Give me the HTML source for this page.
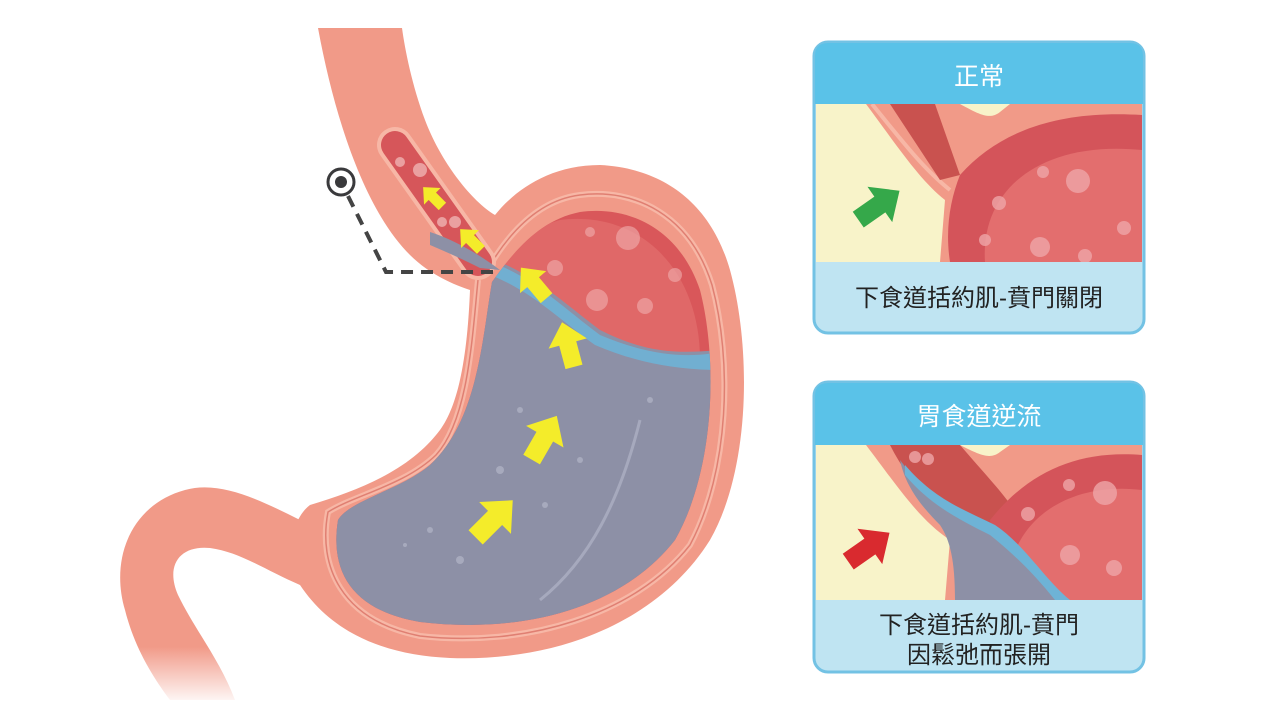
<!DOCTYPE html>
<html><head><meta charset="utf-8"><style>
html,body{margin:0;padding:0;background:#fff;width:1278px;height:718px;overflow:hidden}
.t{font-family:"Liberation Sans","Noto Sans CJK TC",sans-serif}
</style></head><body>
<svg width="1278" height="718" viewBox="0 0 1278 718" xmlns="http://www.w3.org/2000/svg">
<defs>
<linearGradient id="fade" x1="0" y1="0" x2="0" y2="1">
<stop offset="0.75" stop-color="#f19a88"/><stop offset="1" stop-color="#f19a88" stop-opacity="0.1"/>
</linearGradient>
<clipPath id="lum"><path d="M492,282 C482,340 478,420 430,465 C400,490 350,500 338,520 C330,570 350,610 420,622 C520,634 620,610 675,540 C715,470 718,360 700,290 C680,230 630,205 580,212 C540,220 515,250 492,282 Z"/></clipPath>
<clipPath id="p1"><rect x="816" y="104" width="326" height="158"/></clipPath>
<clipPath id="p2"><rect x="816" y="445" width="326" height="155"/></clipPath>
<g id="arrow"><path d="M-14,8 L8,8 L8,18 L28,0 L8,-18 L8,-8 L-14,-8 Z"/></g>
</defs>

<path d="M300,520 C260,500 220,480 185,490 C130,505 110,560 125,610 C135,650 155,680 170,700 L235,700 C220,660 195,630 178,595 C165,565 180,545 210,548 C240,552 265,570 300,585 Z" fill="url(#fade)"/>
<path d="M318,28 C335,120 365,210 410,255 C430,275 455,285 470,290 C468,340 462,400 440,430 C410,470 360,490 310,505 C290,520 285,560 300,585 C330,630 380,655 450,658 C560,662 660,620 710,540 C750,470 752,350 730,270 C710,200 660,168 600,165 C550,165 515,190 495,215 C470,200 440,160 425,120 C412,85 405,50 402,28 Z" fill="#f19a88"/>
<path d="M478,280 C472,340 468,420 436,455 C405,485 355,495 328,512 C318,565 340,620 420,636 C525,648 635,615 690,545 C730,470 732,360 712,285 C690,215 635,188 580,195 C540,200 512,230 492,262" fill="none" stroke="#f7b7a6" stroke-width="6"/>
<path d="M478,280 C472,340 468,420 436,455 C405,485 355,495 328,512 C318,565 340,620 420,636 C525,648 635,615 690,545 C730,470 732,360 712,285 C690,215 635,188 580,195 C540,200 512,230 492,262" fill="none" stroke="#e07f72" stroke-width="1.5"/>
<g clip-path="url(#lum)">
<rect x="300" y="180" width="450" height="480" fill="#d9575a"/>
<path d="M560,220 C640,210 700,270 700,360 L700,620 L300,620 L300,300 Z" fill="#e36f6e" opacity="0.7"/>
<path d="M300,250 L480,255 C530,270 560,300 600,330 C640,350 670,355 720,350 L740,660 L300,660 Z" fill="#8d90a6"/>
<path d="M300,250 L490,262 C530,275 560,305 600,335 C640,352 680,360 720,352 L720,370 C670,370 630,360 595,345 C560,320 530,290 490,275 L300,270Z" fill="#6eb3d6" opacity="0.9"/>
<path d="M640,420 C620,500 590,560 540,600" fill="none" stroke="#a6a9bd" stroke-width="3"/>
<g fill="#f0b0b0" opacity="0.6"><circle cx="555" cy="268" r="8"/><circle cx="628" cy="238" r="12"/><circle cx="597" cy="300" r="11"/><circle cx="645" cy="306" r="8"/><circle cx="675" cy="275" r="7"/><circle cx="590" cy="232" r="5"/></g>
<g fill="#a7aabd"><circle cx="500" cy="470" r="4"/><circle cx="520" cy="410" r="3"/><circle cx="430" cy="530" r="3"/><circle cx="460" cy="560" r="4"/><circle cx="580" cy="460" r="3"/><circle cx="545" cy="505" r="3"/><circle cx="405" cy="545" r="2"/><circle cx="650" cy="400" r="3"/></g>
</g>
<line x1="395" y1="145" x2="478" y2="262" stroke="#f7b7a6" stroke-width="36" stroke-linecap="round"/>
<line x1="395" y1="145" x2="478" y2="262" stroke="#d6565a" stroke-width="28" stroke-linecap="round"/>
<path d="M430,232 C455,240 480,255 500,270 L480,268 C460,258 442,250 430,245Z" fill="#8d90a6"/>
<g fill="#eaa0a0"><circle cx="400" cy="162" r="5"/><circle cx="420" cy="170" r="7"/><circle cx="442" cy="222" r="5"/><circle cx="455" cy="222" r="6"/></g>
<g fill="#f4ec2a">
<use href="#arrow" transform="translate(436,200) rotate(-135) scale(0.65)"/>
<use href="#arrow" transform="translate(474,243) rotate(-135) scale(0.7)"/>
<use href="#arrow" transform="translate(538,288) rotate(-130) scale(0.95)"/>
<use href="#arrow" transform="translate(570,352) rotate(-105) scale(1.1)"/>
<use href="#arrow" transform="translate(540,445) rotate(-60) scale(1.2)"/>
<use href="#arrow" transform="translate(488,525) rotate(-45) scale(1.25)"/>
</g>
<circle cx="341" cy="182" r="13" fill="none" stroke="#3a3a3c" stroke-width="3"/>
<circle cx="341" cy="182" r="6" fill="#3a3a3c"/>
<path d="M348,196 L386,272 L495,272" fill="none" stroke="#444" stroke-width="4" stroke-dasharray="12,8"/>

<rect x="814" y="42" width="330" height="291" rx="14" fill="#bfe4f2" stroke="#73c2e4" stroke-width="3"/>
<path d="M828,43 L1130,43 Q1143,43 1143,56 L1143,104 L815,104 L815,56 Q815,43 828,43Z" fill="#5ac2e8"/>
<g clip-path="url(#p1)">
<rect x="816" y="104" width="326" height="158" fill="#f8f3c9"/>
<path d="M866,104 C900,150 920,180 945,200 L940,262 L1142,262 L1142,104Z" fill="#f19a88"/>
<path d="M872,104 C905,145 925,170 950,190" fill="none" stroke="#f7b7a6" stroke-width="4"/>
<path d="M890,104 L935,104 L960,175 L940,180 Z" fill="#c9524f"/>
<path d="M960,104 C980,115 990,120 1000,112 L1010,104Z" fill="#f8f3c9"/>
<path d="M960,175 C1000,130 1060,110 1142,115 L1142,262 L950,262 C945,230 950,200 960,175Z" fill="#d4545a"/>
<path d="M985,262 C980,190 1040,140 1142,150 L1142,262Z" fill="#e36e6e"/>
<g fill="#efa6a8" opacity="0.8"><circle cx="1043" cy="172" r="6"/><circle cx="1078" cy="181" r="12"/><circle cx="999" cy="203" r="7"/><circle cx="985" cy="240" r="6"/><circle cx="1040" cy="247" r="10"/><circle cx="1124" cy="228" r="7"/><circle cx="1085" cy="256" r="7"/></g>
<use href="#arrow" transform="translate(872,210) rotate(-35) scale(1.2)" fill="#35a84a"/>
</g>
<text x="979" y="85" text-anchor="middle" class="t" font-size="25" fill="#fff">正常</text>
<text x="979" y="306" text-anchor="middle" class="t" font-size="24" fill="#222">下食道括約肌-賁門關閉</text>

<rect x="814" y="382" width="330" height="290" rx="14" fill="#bfe4f2" stroke="#73c2e4" stroke-width="3"/>
<path d="M828,383 L1130,383 Q1143,383 1143,396 L1143,445 L815,445 L815,396 Q815,383 828,383Z" fill="#5ac2e8"/>
<g clip-path="url(#p2)">
<rect x="816" y="445" width="326" height="155" fill="#f8f3c9"/>
<path d="M866,445 C900,490 920,520 950,540 L945,600 L1142,600 L1142,445Z" fill="#f19a88"/>
<path d="M890,445 L960,445 C990,480 1010,500 1020,520 L960,535 C930,505 905,475 890,445Z" fill="#c9524f"/>
<path d="M960,445 C980,455 990,460 1000,452 L1010,445Z" fill="#f8f3c9"/>
<path d="M990,520 C1030,470 1080,450 1142,455 L1142,600 L1000,600Z" fill="#d4545a"/>
<path d="M1010,600 C1000,530 1060,480 1142,490 L1142,600Z" fill="#e36e6e"/>
<path d="M900,460 C930,500 960,510 990,525 C1020,545 1040,575 1060,600 L955,600 C955,560 950,540 940,525 C920,505 905,485 900,460Z" fill="#8d90a6"/>
<path d="M905,465 C935,500 965,510 995,525 C1025,545 1045,580 1070,600 L1055,600 C1035,575 1015,555 990,535 C960,520 930,505 905,475Z" fill="#6eb3d6"/>
<g fill="#efa6a8" opacity="0.8"><circle cx="915" cy="457" r="6"/><circle cx="928" cy="459" r="6"/><circle cx="1069" cy="485" r="6"/><circle cx="1105" cy="493" r="12"/><circle cx="1028" cy="514" r="7"/><circle cx="1070" cy="555" r="10"/><circle cx="1114" cy="568" r="8"/></g>
<use href="#arrow" transform="translate(862,552) rotate(-35) scale(1.2)" fill="#d92a2f"/>
</g>
<text x="979" y="425" text-anchor="middle" class="t" font-size="25" fill="#fff">胃食道逆流</text>
<text x="979" y="633" text-anchor="middle" class="t" font-size="24" fill="#222">下食道括約肌-賁門</text>
<text x="979" y="663" text-anchor="middle" class="t" font-size="24" fill="#222">因鬆弛而張開</text>
</svg>
</body></html>
